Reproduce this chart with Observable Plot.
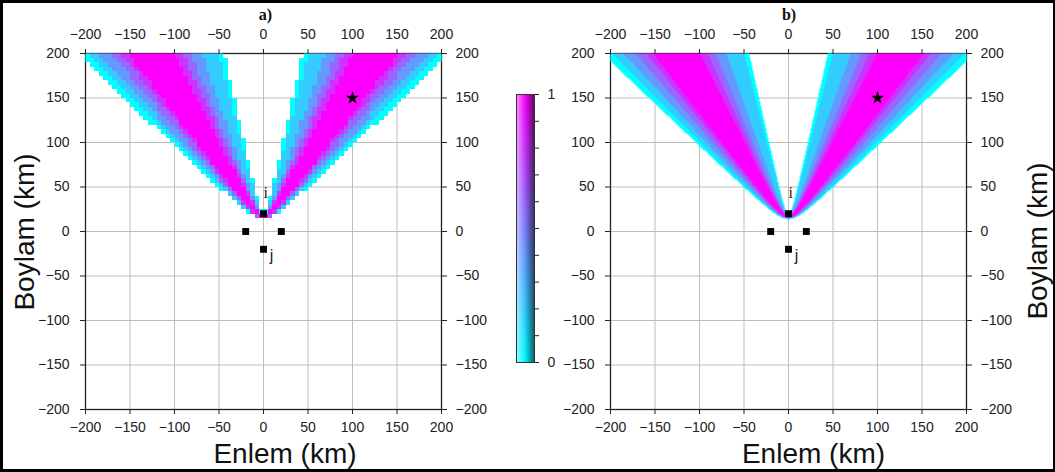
<!DOCTYPE html>
<html><head><meta charset="utf-8">
<script src="https://cdn.jsdelivr.net/npm/d3@7"></script>
<script src="https://cdn.jsdelivr.net/npm/@observablehq/plot@0.6"></script>
<style>
html,body{margin:0;padding:0;background:#fff;}
#wrap{position:relative;width:1055px;height:472px;overflow:hidden;background:#fff;}
#wrap > svg, #wrap > div{position:absolute;}
#frameBorder{left:0;top:0;width:1055px;height:472px;box-sizing:border-box;border-style:solid;border-color:#000;border-width:3px 2px 3px 3px;pointer-events:none;}
</style></head><body><div id="wrap"></div>
<script>
// ---- data ----
const axisTicks = [-200, -150, -100, -50, 0, 50, 100, 150, 200];
const colorbarTicks = [0, 0.1, 0.2, 0.3, 0.4, 0.5, 0.6, 0.7, 0.8, 0.9, 1];
const colorbarLabels = [0, 1];
const stationX = [0, -20, 20, 0];
const stationY = [20, 0, 0, -20];
const labelText = ["i", "j"];
const labelX = [2.5, 9];
const labelY = [43, -27];
const starX = [100];
const starY = [150];
// distance-difference (km) band edges between stations j and i, read along the top row
const bandEdges = [27.6, 28.35, 29.3, 30.3, 31.2, 31.8, 35.8, 36.4, 37.0, 37.75, 38.8, 39.05];
const bandLevels = [0, 0.2, 0.4, 0.6, 0.8, 1, 0.8, 0.6, 0.4, 0.2, 0];
const panelTitles = ["a)", "b)"];
const xTitle = "Enlem (km)";
const yTitle = "Boylam (km)";
const colorStops = ["#00ffff", "#ff00ff"];

const sans = "'Liberation Sans', Arial, Helvetica, sans-serif";
const serif = "'Liberation Serif', 'Times New Roman', serif";

function level(x, y) {
  const d = Math.hypot(x - stationX[3], y - stationY[3]) - Math.hypot(x - stationX[0], y - stationY[0]);
  if (!(d >= bandEdges[0] && d <= bandEdges[bandEdges.length - 1])) return NaN;
  const k = Math.min(d3.bisectRight(bandEdges, d) - 1, bandLevels.length - 1);
  return bandLevels[k];
}

function panel(cells, rendering) {
  return Plot.plot({
    width: 456, height: 421,
    marginLeft: 50, marginRight: 50, marginTop: 35, marginBottom: 30,
    x: {domain: [-200, 200]},
    y: {domain: [-200, 200]},
    color: {type: "linear", domain: [0, 1], range: colorStops, interpolate: "rgb"},
    style: {background: "transparent", overflow: "visible", fontFamily: sans, fontSize: "14px", color: "#222"},
    marks: [
      Plot.gridX(axisTicks, {stroke: "#bdbdbd", strokeOpacity: 1}),
      Plot.gridY(axisTicks, {stroke: "#bdbdbd", strokeOpacity: 1}),
      Plot.frame({stroke: "#222", strokeWidth: 1.3}),
      Plot.raster({x1: -200, x2: 200, y1: -200, y2: 200, width: cells, height: cells, fill: level, imageRendering: rendering}),
      Plot.axisX(axisTicks, {anchor: "bottom", tickSize: 5, tickPadding: 8, label: null}),
      Plot.axisX(axisTicks, {anchor: "top", tickSize: 5, tickPadding: 10, label: null}),
      Plot.axisY(axisTicks, {anchor: "left", tickSize: 5, tickPadding: 11, label: null}),
      Plot.axisY(axisTicks, {anchor: "right", tickSize: 5, tickPadding: 9, label: null}),
      Plot.dot(stationX, {x: stationX, y: stationY, symbol: "square", r: 3.9, fill: "#000", stroke: "none"}),
      Plot.dot(starX, {x: starX, y: starY, symbol: "star", r: 4.2, fill: "#000", stroke: "none"}),
      Plot.text([0], {x: i => labelX[i], y: i => labelY[i], text: i => labelText[i], fontFamily: serif, fontSize: 16, fill: "#2a1a12"}),
      Plot.text([1], {x: i => labelX[i], y: i => labelY[i], text: i => labelText[i], fontFamily: sans, fontSize: 16, fill: "#1a1a2a"})
    ]
  });
}

function shade(x, y) {
  const base = d3.interpolateRgb(colorStops[0], colorStops[1])(y);
  if (x < 0.45) return d3.interpolateRgb(base, "#ffffff")((0.45 - x) / 0.45 * 0.55);
  return d3.interpolateRgb(base, "#000000")((x - 0.45) / 0.55 * 0.6);
}

const wrap = document.getElementById("wrap");

const pa = panel(80, "pixelated");
pa.style.left = "35px"; pa.style.top = "18px";
wrap.appendChild(pa);

const cb = Plot.plot({
  width: 68, height: 293, marginLeft: 10, marginRight: 40, marginTop: 10, marginBottom: 15,
  x: {domain: [0, 1], axis: null},
  y: {domain: [0, 1]},
  style: {background: "transparent", overflow: "visible", fontFamily: sans, fontSize: "14px", color: "#222"},
  marks: [
    Plot.raster({x1: 0, x2: 1, y1: 0, y2: 1, fill: shade}),
    Plot.frame({stroke: "#333"}),
    Plot.axisY(colorbarTicks, {anchor: "right", tickSize: 4, tickPadding: 9, label: null, tickFormat: d => colorbarLabels.includes(d) ? String(d) : ""})
  ]
});
cb.style.left = "506px"; cb.style.top = "84px";
wrap.appendChild(cb);

const pb = panel(356, "auto");
pb.style.left = "560px"; pb.style.top = "18px";
wrap.appendChild(pb);

// titles
const ov = d3.create("svg").attr("width", 1055).attr("height", 472).style("left", "0px").style("top", "0px").style("pointer-events", "none");
ov.append("text").attr("x", 265.5).attr("y", 20).attr("text-anchor", "middle").attr("font-family", serif).attr("font-weight", "bold").attr("font-size", 16).attr("fill", "#111").text(panelTitles[0]);
ov.append("text").attr("x", 789).attr("y", 20).attr("text-anchor", "middle").attr("font-family", serif).attr("font-weight", "bold").attr("font-size", 16).attr("fill", "#111").text(panelTitles[1]);
ov.append("text").attr("x", 285).attr("y", 463).attr("text-anchor", "middle").attr("font-family", sans).attr("font-size", 28).attr("fill", "#111").text(xTitle);
ov.append("text").attr("x", 813.5).attr("y", 463).attr("text-anchor", "middle").attr("font-family", sans).attr("font-size", 28).attr("fill", "#111").text(xTitle);
ov.append("text").attr("transform", "translate(34,232) rotate(-90)").attr("text-anchor", "middle").attr("font-family", sans).attr("font-size", 28).attr("fill", "#111").text(yTitle);
ov.append("text").attr("transform", "translate(1047,241) rotate(-90)").attr("text-anchor", "middle").attr("font-family", sans).attr("font-size", 28).attr("fill", "#111").text(yTitle);
wrap.appendChild(ov.node());

const bd = document.createElement("div");
bd.id = "frameBorder";
wrap.appendChild(bd);
</script></body></html>
